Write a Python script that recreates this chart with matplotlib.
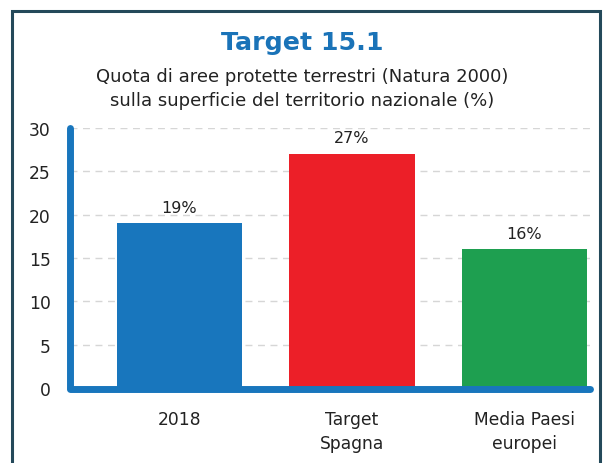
import matplotlib.pyplot as plt
from matplotlib.patches import Rectangle

categories = ['2018', 'Target\nSpagna', 'Media Paesi\neuropei']
values = [19, 27, 16]
labels = ['19%', '27%', '16%']
colors = ['#1876bd', '#ec1f28', '#1e9f50']
yticks = [0, 5, 10, 15, 20, 25, 30]

plt.rcParams['font.family'] = ['DejaVu Sans']

W, H = 605, 464
fig = plt.figure(figsize=(W / 100, H / 100), dpi=100)

# outer frame
fig.patches.append(Rectangle((12 / W, -0.05), (600 - 12) / W, 1 - 12 / H + 0.05,
                             transform=fig.transFigure, fill=False,
                             edgecolor='#24495a', linewidth=2.2))

ax = fig.add_axes([70 / W, 1 - 389 / H, (590 - 70) / W, (389 - 129) / H])
x = list(range(len(categories)))
ax.bar(x, values, width=0.725, color=colors, zorder=2)
for xi, v, lab in zip(x, values, labels):
    ax.text(xi, v + 1.0, lab, ha='center', va='bottom', fontsize=11.5, color='#222222')

ax.set_xlim(-0.635, 2.38)
ax.set_ylim(0, 30)
ax.set_yticks(yticks)
ax.set_xticks(x)
ax.set_xticklabels(categories, fontsize=12.3, color='#222222', linespacing=1.4)
ax.tick_params(axis='y', labelsize=12.3, colors='#222222', length=0, pad=14)
ax.tick_params(axis='x', length=0, pad=16)
for s in ax.spines.values():
    s.set_visible(False)
for t in yticks[1:]:
    ax.axhline(t, color='#d6d6d6', linestyle=(0, (5, 4)), linewidth=1, zorder=1)

# thick blue axis lines with round caps
ax.plot([-0.635, -0.635], [0, 30], color='#1876bd', linewidth=5,
        solid_capstyle='round', clip_on=False, zorder=3)
ax.plot([-0.635, 2.38], [-0.1, -0.1], color='#1876bd', linewidth=5,
        solid_capstyle='round', clip_on=False, zorder=3)

fig.text(0.5, 1 - 43 / H, 'Target 15.1', ha='center', va='center',
         fontsize=18.2, fontweight='bold', color='#1a73b8')
fig.text(0.5, 1 - 89 / H, 'Quota di aree protette terrestri (Natura 2000)\n'
         'sulla superficie del territorio nazionale (%)',
         ha='center', va='center', fontsize=13, color='#222222', linespacing=1.4)

fig.savefig('out.png', dpi=100)
